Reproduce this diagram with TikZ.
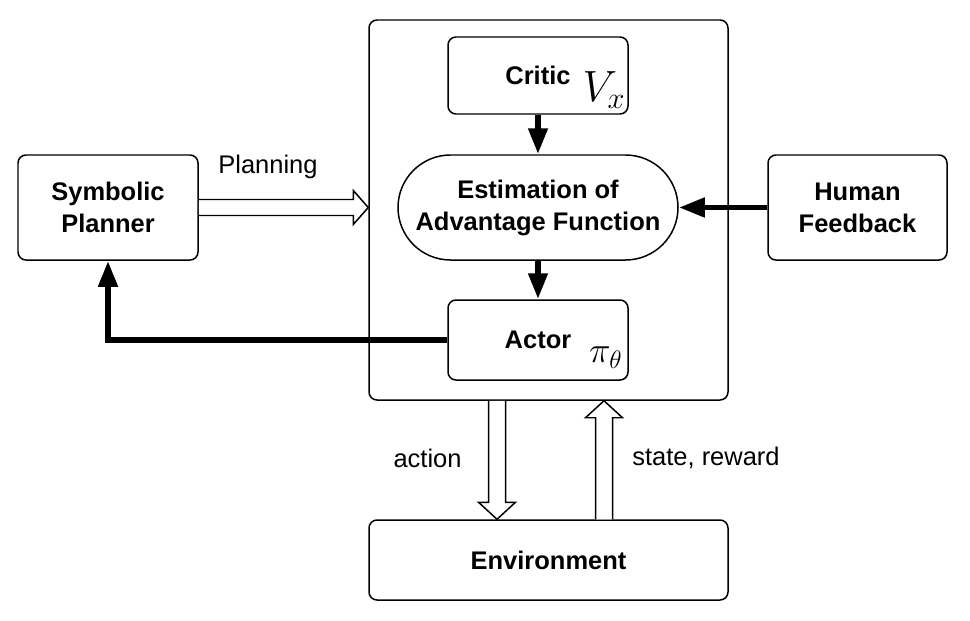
\documentclass[tikz,border=0pt]{standalone}
\usepackage{fontspec}
\setmainfont{Liberation Sans}
\usetikzlibrary{arrows.meta,positioning}

\begin{document}
\begin{tikzpicture}[
  x=1cm,
  y=1cm,
  blk/.style={draw=black, line width=0.85pt, rounded corners=0.16cm, fill=white, align=center,
    font=\fontsize{14.5}{18.2}\selectfont\bfseries},
  stadium/.style={blk, rounded corners=1.05cm},
  frame/.style={draw=black, line width=0.85pt, rounded corners=0.16cm},
  thickarr/.style={line width=3.4pt, -{Triangle[length=0.52cm, width=0.37cm]}},
  hollow/.style={draw=black, line width=0.85pt, fill=white, line join=miter},
  lbl/.style={font=\fontsize{14.5}{18.2}\selectfont},
  mathlbl/.style={inner sep=0pt, font=\fontsize{24}{24}\selectfont}
]
\useasboundingbox (0,0) rectangle (19.4,12.4);

% outer agent box
\node[frame, minimum width=7.18cm, minimum height=7.6cm] (agent) at (10.97,8.2) {};

% blocks
\node[blk, minimum width=3.6cm, minimum height=1.54cm] (critic) at (10.76,10.89) {Critic};
\node[stadium, minimum width=5.6cm, minimum height=2.1cm] (estim) at (10.76,8.25) {Estimation of\\Advantage Function};
\node[blk, minimum width=3.6cm, minimum height=1.6cm] (actor) at (10.76,5.6) {Actor};
\node[blk, minimum width=3.6cm, minimum height=2.1cm] (planner) at (2.16,8.25) {Symbolic\\Planner};
\node[blk, minimum width=3.58cm, minimum height=2.1cm] (human) at (17.15,8.25) {Human\\Feedback};
\node[blk, minimum width=7.18cm, minimum height=1.6cm] (env) at (10.97,1.2) {Environment};

% math symbols in the corners
\node[mathlbl, anchor=base east] (vx) at ([xshift=-0.06cm,yshift=0.26cm]critic.south east) {$V_x$};
\node[mathlbl, font=\fontsize{22}{22}\selectfont, anchor=base east] (pitheta) at ([xshift=-0.12cm,yshift=0.36cm]actor.south east) {$\pi_\theta$};

% solid connectors
\draw[thickarr] (critic) -- (estim);
\draw[thickarr] (estim) -- (actor);
\draw[thickarr] (human) -- (estim);
\draw[thickarr] (actor.west) -| (planner.south);

% hollow arrows
\coordinate (plantip) at (agent.west |- planner.east);
\draw[hollow] ([yshift=0.16cm]planner.east) -- ([xshift=-0.3cm,yshift=0.16cm]plantip)
  -- ([xshift=-0.3cm,yshift=0.34cm]plantip) -- (plantip)
  -- ([xshift=-0.3cm,yshift=-0.34cm]plantip) -- ([xshift=-0.3cm,yshift=-0.16cm]plantip)
  -- ([yshift=-0.16cm]planner.east);

\coordinate (acttip) at ([xshift=-1.03cm]env.north);
\coordinate (acttail) at (acttip |- agent.south);
\draw[hollow] ([xshift=-0.17cm]acttail) -- ([xshift=-0.17cm,yshift=0.34cm]acttip)
  -- ([xshift=-0.37cm,yshift=0.34cm]acttip) -- (acttip)
  -- ([xshift=0.37cm,yshift=0.34cm]acttip) -- ([xshift=0.17cm,yshift=0.34cm]acttip)
  -- ([xshift=0.17cm]acttail);

\coordinate (sttip) at ([xshift=1.11cm]agent.south);
\coordinate (sttail) at (sttip |- env.north);
\draw[hollow] ([xshift=-0.17cm]sttail) -- ([xshift=-0.17cm,yshift=-0.34cm]sttip)
  -- ([xshift=-0.37cm,yshift=-0.34cm]sttip) -- (sttip)
  -- ([xshift=0.37cm,yshift=-0.34cm]sttip) -- ([xshift=0.17cm,yshift=-0.34cm]sttip)
  -- ([xshift=0.17cm]sttail);

% arrow labels
\node[lbl] (planlbl) at (5.36,9.06) {Planning};
\node[lbl] (actlbl) at (8.55,3.24) {action};
\node[lbl] (stlbl) at (14.12,3.24) {state, reward};
\end{tikzpicture}
\end{document}
